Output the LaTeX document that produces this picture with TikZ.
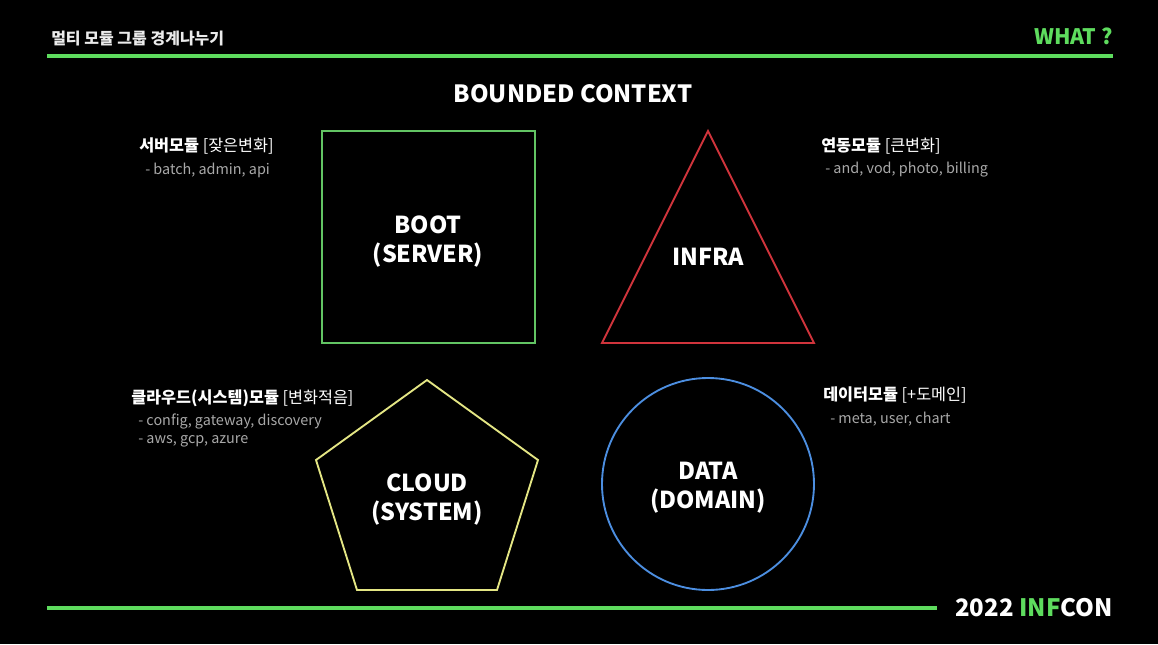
\documentclass[tikz,border=0pt]{standalone}
\usepackage{fontspec}
\setmainfont{Noto Sans CJK KR}
\usetikzlibrary{positioning}

\definecolor{infgreen}{HTML}{5EDC5E}
\definecolor{boxgreen}{HTML}{62C463}
\definecolor{trired}{HTML}{D0343C}
\definecolor{penyellow}{HTML}{E4E684}
\definecolor{circblue}{HTML}{4C8EE0}
\definecolor{subgray}{HTML}{A8A8A8}

\begin{document}
\begin{tikzpicture}[
    x=0.75pt, y=-0.75pt,
    rule/.style={infgreen, line width=2.4pt},
    shapeline/.style={line width=1.4pt},
    core/.style={text=white, font=\fontsize{17.5}{21.75}\selectfont\bfseries, align=center, inner sep=0pt},
    ctxhead/.style={text=white, anchor=west, inner sep=0pt, font=\fontsize{12.2}{14}\selectfont},
    ctxitem/.style={text=subgray, anchor=west, inner sep=0pt, font=\fontsize{10.8}{13.5}\selectfont, align=left},
  ]
  \useasboundingbox[fill=black] (0,0) rectangle (1158,644);

  % ===== header / footer =====
  \node[text=white!92!black, anchor=west, inner sep=0pt, font=\fontsize{12}{14}\selectfont\bfseries] (topic) at (51,38) {멀티 모듈 그룹 경계나누기};
  \node[text=infgreen, anchor=east, inner sep=0pt, font=\fontsize{16}{18}\selectfont\bfseries] (what) at (1113,36) {WHAT ?};
  \coordinate (topL) at (47,56);
  \coordinate (topR) at (1113,56);
  \draw[rule] (topL) -- (topR);

  \node[anchor=east, inner sep=0pt, font=\fontsize{18}{20}\selectfont\bfseries] (conf) at (1113,608)
    {\textcolor{white}{2022} \textcolor{infgreen}{INF}\textcolor{white}{CON}};
  \coordinate (botL) at (47,608);
  \coordinate (botR) at (937,608);
  \draw[rule] (botL) -- (botR);

  \node[core, font=\fontsize{17.8}{20}\selectfont\bfseries] (title) at (573,94) {BOUNDED CONTEXT};

  % ===== four contexts =====
  \draw[shapeline, boxgreen] (322,131) rectangle (535,343);
  \node[core] (boot) at (428,241.5) {BOOT\\(SERVER)};

  \draw[shapeline, trired] (708,131) -- (814,343) -- (602,343) -- cycle;
  \node[core] (infra) at (708,256.5) {INFRA};

  \draw[shapeline, penyellow] (427,380) -- (538,460) -- (497,590) -- (357,590) -- (316,460) -- cycle;
  \node[core] (cloud) at (427,499.5) {CLOUD\\(SYSTEM)};

  \draw[shapeline, circblue] (708,484) circle[radius=106];
  \node[core] (data) at (708,487.5) {DATA\\(DOMAIN)};

  % ===== module notes =====
  \node[ctxhead] (serverH) at (139,146) {\textbf{서버모듈} [잦은변화]};
  \node[ctxitem] (serverI) at (145,170) {- batch, admin, api};

  \node[ctxhead] (linkH) at (821,146) {\textbf{연동모듈} [큰변화]};
  \node[ctxitem] (linkI) at (825,170) {- and, vod, photo, billing};

  \node[ctxhead] (cloudH) at (131,398) {\textbf{클라우드(시스템)모듈} [변화적음]};
  \node[ctxitem, anchor=north west] (cloudI) at (138,414) {- config, gateway, discovery\\- aws, gcp, azure};

  \node[ctxhead] (dataH) at (823,395) {\textbf{데이터모듈} [+도메인]};
  \node[ctxitem] (dataI) at (830,419) {- meta, user, chart};

\end{tikzpicture}
\end{document}
